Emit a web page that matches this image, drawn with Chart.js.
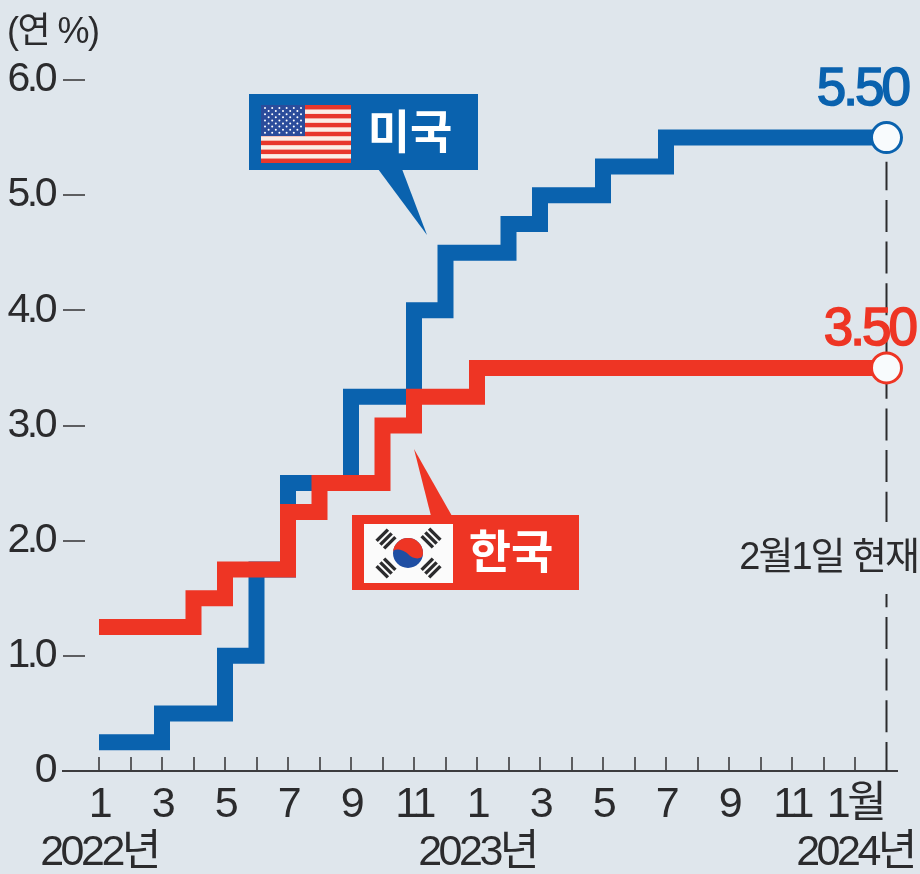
<!DOCTYPE html>
<html lang="ko">
<head>
<meta charset="utf-8">
<title>한미 기준금리</title>
<script src="https://cdn.jsdelivr.net/npm/chart.js@4"></script>
<style>
  html, body { margin: 0; padding: 0; background: #dfe6ec; }
  #wrap { width: 920px; height: 874px; position: relative; overflow: hidden; }
</style>
</head>
<body>
<div id="wrap"><canvas id="chart" width="920" height="874"></canvas></div>
<script>
// months counted from January 2022 (0) to 1 February 2024 (25)
const usMonths = [0, 2, 4, 5, 6, 8, 10, 11, 13, 14, 16, 18, 25];
const usRates = [0.25, 0.5, 1.0, 1.75, 2.5, 3.25, 4.0, 4.5, 4.75, 5.0, 5.25, 5.5, 5.5];
const krMonths = [0, 3, 4, 6, 7, 9, 10, 12, 25];
const krRates = [1.25, 1.5, 1.75, 2.25, 2.5, 3.0, 3.25, 3.5, 3.5];
const guideMonths = [25, 25];
const guideRates = [0, 5.29];
const allMonths = Array.from({ length: 26 }, (_, i) => i);
const monthLabels = ["1", "", "3", "", "5", "", "7", "", "9", "", "11", "", "1", "", "3", "", "5", "", "7", "", "9", "", "11", "", "1월", ""];
const yearLabels = { 0: "2022년", 12: "2023년", 24: "2024년" };
const rateTicks = [0, 1, 2, 3, 4, 5, 6];
const rateTickLabels = ["0", "1.0", "2.0", "3.0", "4.0", "5.0", "6.0"];

const BLUE = "#0a62ae";
const RED = "#ee3524";
const INK = "#2b2b2d";
const BG = "#dfe6ec";
const NUM_FONT = "'Liberation Sans', 'Noto Sans CJK KR', sans-serif";
const KR_FONT = "'Noto Sans CJK KR', sans-serif";

const toPoints = (xs, ys) => xs.map((x, i) => ({ x, y: ys[i] }));
const lastOnly = (size) => (ctx) => (ctx.dataIndex === ctx.dataset.data.length - 1 ? size : 0);

function drawUsFlag(ctx) {
  const x = 261, y = 105, w = 90, h = 58, cw = 44, ch = 31;
  ctx.fillStyle = "#fbeee6";
  ctx.fillRect(x, y, w, h);
  ctx.fillStyle = "#e8372c";
  for (let i = 0; i < 13; i += 2) {
    ctx.fillRect(x, y + (i * h) / 13, w, h / 13);
  }
  ctx.fillStyle = "#2b4c9b";
  ctx.fillRect(x, y, cw, ch);
  ctx.fillStyle = "#ffffff";
  for (let r = 0; r < 9; r++) {
    const n = r % 2 ? 5 : 6;
    for (let c = 0; c < n; c++) {
      ctx.beginPath();
      ctx.arc(x + 4 + (r % 2 ? 3.6 : 0) + c * 7.2, y + 3 + r * 3.1, 1, 0, Math.PI * 2);
      ctx.fill();
    }
  }
}

function drawKrFlag(ctx) {
  const cx = 408, cy = 553, r = 15;
  ctx.fillStyle = "#fbfbfb";
  ctx.fillRect(364, 524, 89, 59);
  ctx.fillStyle = "#1f4ea3";
  ctx.beginPath();
  ctx.arc(cx, cy, r, 0, Math.PI * 2);
  ctx.fill();
  ctx.fillStyle = RED;
  ctx.beginPath();
  ctx.arc(cx, cy, r, Math.PI, Math.PI * 2);
  ctx.bezierCurveTo(cx + r, cy + 8, cx + 4, cy + 6, cx, cy + 1);
  ctx.bezierCurveTo(cx - 4, cy - 3, cx - r, cy - 6, cx - r, cy);
  ctx.fill();
  ctx.fillStyle = "#2b2b2d";
  [[386, 539, -1], [431, 538, 1], [386, 568, 1], [431, 568, -1]].forEach(([tx, ty, dir]) => {
    ctx.save();
    ctx.translate(tx, ty);
    ctx.rotate((dir * Math.PI) / 4);
    [-7, -1.7, 3.6].forEach((off) => ctx.fillRect(-8, off, 16, 3.4));
    ctx.restore();
  });
}

function drawCallout(ctx, box, tip, color, label, labelX, labelY) {
  ctx.fillStyle = color;
  ctx.fillRect(box[0], box[1], box[2], box[3]);
  ctx.beginPath();
  ctx.moveTo(tip[0], tip[1]);
  ctx.lineTo(tip[2], tip[3]);
  ctx.lineTo(tip[4], tip[5]);
  ctx.closePath();
  ctx.fill();
  ctx.fillStyle = "#ffffff";
  ctx.font = `700 46px ${KR_FONT}`;
  ctx.textAlign = "center";
  ctx.textBaseline = "middle";
  ctx.fillText(label, labelX, labelY);
}

function drawEndLabel(ctx, value, color, x, y) {
  const text = value.toFixed(2);
  ctx.fillStyle = color;
  ctx.strokeStyle = color;
  ctx.lineWidth = 1.6;
  ctx.fillText(text, x, y);
  ctx.strokeText(text, x, y);
}

const annotations = {
  id: "annotations",
  beforeDraw(chart) {
    // the reference digits are set tight, tick labels pick this up from the context
    chart.ctx.letterSpacing = "-3.5px";
  },
  afterDatasetsDraw(chart) {
    const { ctx, scales } = chart;
    ctx.save();

    // axis tick marks: the ones on x point up from the axis, y ones sit right of the labels
    ctx.strokeStyle = "#3c3c3e";
    ctx.lineWidth = 1.6;
    allMonths.slice(0, 25).forEach((m) => {
      const px = Math.round(scales.x.getPixelForValue(m));
      ctx.beginPath();
      ctx.moveTo(px, scales.y.bottom);
      ctx.lineTo(px, scales.y.bottom - 14);
      ctx.stroke();
    });
    rateTicks.slice(1).forEach((v) => {
      const py = Math.round(scales.y.getPixelForValue(v));
      ctx.beginPath();
      ctx.moveTo(63, py);
      ctx.lineTo(85, py);
      ctx.stroke();
    });

    ctx.fillStyle = BG;
    ctx.fillRect(878, 522, 20, 72);

    ctx.textBaseline = "alphabetic";
    ctx.fillStyle = INK;
    ctx.textAlign = "left";
    ctx.letterSpacing = "-1.5px";
    ctx.font = `36px ${NUM_FONT}`;
    ctx.fillText("(연 %)", 7, 43);

    ctx.textAlign = "right";
    ctx.letterSpacing = "-2px";
    ctx.font = `38px ${NUM_FONT}`;
    ctx.fillText("2월1일 현재", 918, 569);

    ctx.letterSpacing = "-3px";
    ctx.font = `53px ${NUM_FONT}`;
    drawEndLabel(ctx, usRates[usRates.length - 1], BLUE, 908, 105);
    drawEndLabel(ctx, krRates[krRates.length - 1], RED, 915, 345);

    ctx.letterSpacing = "0px";
    drawCallout(ctx, [249, 94, 229, 76], [378, 169, 402, 169, 427, 235], BLUE, "미국", 410, 131);
    drawUsFlag(ctx);
    drawCallout(ctx, [352, 515, 227, 75], [431, 516, 452, 516, 414, 449], RED, "한국", 511, 551);
    drawKrFlag(ctx);
    ctx.restore();
  },
};

new Chart(document.getElementById("chart"), {
  type: "line",
  data: {
    datasets: [
      {
        label: "현재",
        data: toPoints(guideMonths, guideRates),
        borderColor: "#2b2b2d",
        borderWidth: 2,
        borderDash: [32, 9.7],
        borderDashOffset: 3,
        pointRadius: 0,
        clip: false,
        order: 3,
      },
      {
        label: "미국",
        data: toPoints(usMonths, usRates),
        stepped: true,
        borderColor: BLUE,
        borderWidth: 16,
        borderJoinStyle: "miter",
        borderCapStyle: "butt",
        pointRadius: lastOnly(15),
        pointBackgroundColor: "#f8fbfd",
        pointBorderColor: BLUE,
        pointBorderWidth: 3,
        clip: false,
        order: 2,
      },
      {
        label: "한국",
        data: toPoints(krMonths, krRates),
        stepped: true,
        borderColor: RED,
        borderWidth: 16,
        borderJoinStyle: "miter",
        borderCapStyle: "butt",
        pointRadius: lastOnly(15),
        pointBackgroundColor: "#f8fbfd",
        pointBorderColor: RED,
        pointBorderWidth: 3,
        clip: false,
        order: 1,
      },
    ],
  },
  options: {
    responsive: false,
    animation: false,
    devicePixelRatio: 1,
    layout: { padding: { top: 80, right: 23, left: 0, bottom: 0 } },
    plugins: { legend: { display: false }, title: { display: false }, tooltip: { enabled: false } },
    scales: {
      x: {
        type: "linear",
        min: (63 - 99) / 31.5,
        max: (897 - 99) / 31.5,
        afterBuildTicks: (axis) => { axis.ticks = allMonths.map((value) => ({ value })); },
        afterFit: (axis) => { axis.height = 103; },
        grid: { display: false },
        border: { display: true, color: "#3c3c3e", width: 2 },
        ticks: {
          autoSkip: false,
          maxRotation: 0,
          color: INK,
          padding: 2,
          font: { family: NUM_FONT, size: 43, lineHeight: 1.12 },
          callback: (value) => (yearLabels[value] ? [monthLabels[value], yearLabels[value]] : monthLabels[value]),
        },
      },
      y: {
        min: 0,
        max: 6,
        afterBuildTicks: (axis) => { axis.ticks = rateTicks.map((value) => ({ value })); },
        afterFit: (axis) => { axis.width = 63; },
        grid: { display: false },
        border: { display: false },
        ticks: {
          color: INK,
          padding: 1,
          font: { family: NUM_FONT, size: 41 },
          callback: (value) => rateTickLabels[rateTicks.indexOf(value)],
        },
      },
    },
  },
  plugins: [annotations],
});
</script>
</body>
</html>
